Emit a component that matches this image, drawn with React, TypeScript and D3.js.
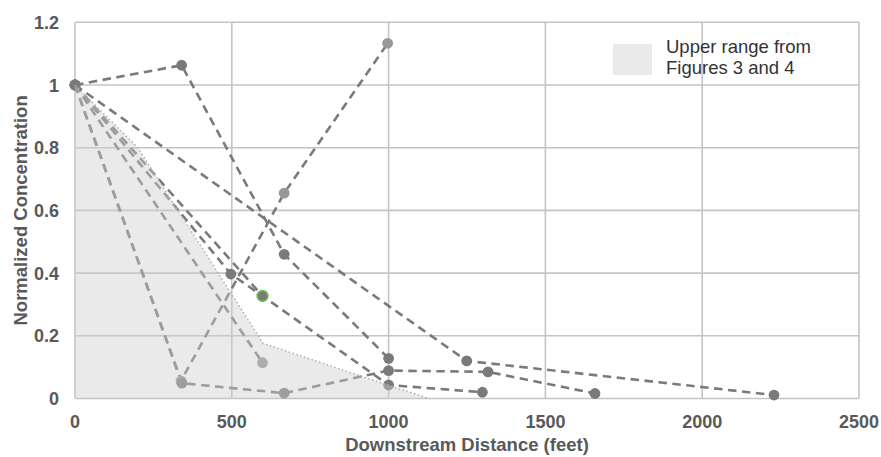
import React from "react";
import * as d3 from "d3";

// ---- data ----
const xTicks = [0, 500, 1000, 1500, 2000, 2500];
const yTicks = [0, 0.2, 0.4, 0.6, 0.8, 1, 1.2];
const yTickLabels = ["0", "0.2", "0.4", "0.6", "0.8", "1", "1.2"];

const distA = [0, 340, 667, 1000];
const concA = [1, 1.063, 0.46, 0.128];

const distB = [0, 338, 667, 997];
const concB = [1, 0.056, 0.655, 1.133];

const distC = [0, 341, 667, 1000, 1317, 1658];
const concC = [1, 0.049, 0.017, 0.089, 0.085, 0.016];

const distD = [0, 497, 598, 1000, 1299];
const concD = [1, 0.397, 0.327, 0.043, 0.02];

const distE = [0, 598];
const concE = [1, 0.327];

const distF = [0, 598];
const concF = [1, 0.114];

const distG = [0, 1249, 2229];
const concG = [1, 0.12, 0.011];

const rangeDist = [0, 200, 600, 1000, 1130];
const rangeConc = [1, 0.8, 0.176, 0.042, 0];

const legendLines = ["Upper range from", "Figures 3 and 4"];

type Series = { d: number[]; c: number[]; light: boolean; green?: boolean };
const series: Series[] = [
  { d: distA, c: concA, light: false },
  { d: distB, c: concB, light: true },
  { d: distC, c: concC, light: false },
  { d: distD, c: concD, light: false },
  { d: distE, c: concE, light: false, green: true },
  { d: distF, c: concF, light: true },
  { d: distG, c: concG, light: false },
];

export default function App() {
  const W = 881;
  const H = 457;
  const x = d3.scaleLinear().domain([0, 2500]).range([75, 859]);
  const y = d3.scaleLinear().domain([0, 1.2]).range([398.5, 22.3]);
  const line = d3
    .line<[number, number]>()
    .x((p) => x(p[0]))
    .y((p) => y(p[1]));

  const rangePts: [number, number][] = rangeDist.map((d, i) => [d, rangeConc[i]]);
  const area = d3
    .area<[number, number]>()
    .x((p) => x(p[0]))
    .y0(y(0))
    .y1((p) => y(p[1]));

  const font = "'Liberation Sans', Arial, sans-serif";
  const grid = "#c4c4c4";
  const lineCol = "#7a7a7a";

  return (
    <svg
      width={W}
      height={H}
      style={{ position: "absolute", left: 0, top: 0, background: "#fff" }}
      fontFamily={font}
    >
      {/* grid */}
      {xTicks.map((t) => (
        <line key={"gx" + t} x1={x(t)} x2={x(t)} y1={y(1.2)} y2={y(0)} stroke={grid} strokeWidth={1.6} />
      ))}
      {yTicks.map((t) => (
        <line key={"gy" + t} x1={x(0)} x2={x(2500)} y1={y(t)} y2={y(t)} stroke={grid} strokeWidth={1.6} />
      ))}

      {/* series lines */}
      {series.map((s, i) => (
        <path
          key={"l" + i}
          d={line(s.d.map((d, j) => [d, s.c[j]] as [number, number])) || ""}
          fill="none"
          stroke={lineCol}
          strokeWidth={2.6}
          strokeDasharray="8.5,5.5"
        />
      ))}
      {/* markers */}
      {series.map((s, i) =>
        s.d.map((d, j) => {
          const g = s.green && j === s.d.length - 1;
          return (
            <circle
              key={"m" + i + "-" + j}
              cx={x(d)}
              cy={y(s.c[j])}
              r={5.4}
              fill={s.light ? "#989898" : "#7a7a7a"}
              stroke={g ? "#6cc24a" : "none"}
              strokeWidth={g ? 1.6 : 0}
            />
          );
        })
      )}

      {/* shaded upper range (drawn on top, translucent) */}
      <path d={area(rangePts) || ""} fill="rgb(205,205,205)" fillOpacity={0.42} />
      <path
        d={line(rangePts) || ""}
        fill="none"
        stroke="#b0b0b0"
        strokeWidth={1.5}
        strokeDasharray="1.5,2.5"
      />

      {/* legend */}
      <rect x={613} y={44} width={39} height={31} fill="rgb(205,205,205)" fillOpacity={0.42} />
      {legendLines.map((t, i) => (
        <text key={"lg" + i} x={666} y={53 + i * 21} fontSize={18.5} fill="#333">
          {t}
        </text>
      ))}

      {/* y tick labels */}
      {yTicks.map((t, i) => (
        <text
          key={"yt" + t}
          x={59}
          y={y(t) + 6.5}
          textAnchor="end"
          fontSize={18}
          fontWeight="bold"
          fill="#595959"
        >
          {yTickLabels[i]}
        </text>
      ))}
      {/* x tick labels */}
      {xTicks.map((t) => (
        <text
          key={"xt" + t}
          x={x(t)}
          y={428}
          textAnchor="middle"
          fontSize={18}
          fontWeight="bold"
          fill="#595959"
        >
          {t}
        </text>
      ))}

      {/* axis titles */}
      <text x={467} y={451} textAnchor="middle" fontSize={18.5} fontWeight="bold" fill="#595959">
        Downstream Distance (feet)
      </text>
      <text
        transform={`translate(21,${(y(0) + y(1.2)) / 2}) rotate(-90)`}
        textAnchor="middle"
        dy={6}
        fontSize={18.5}
        fontWeight="bold"
        fill="#595959"
      >
        Normalized Concentration
      </text>
    </svg>
  );
}
